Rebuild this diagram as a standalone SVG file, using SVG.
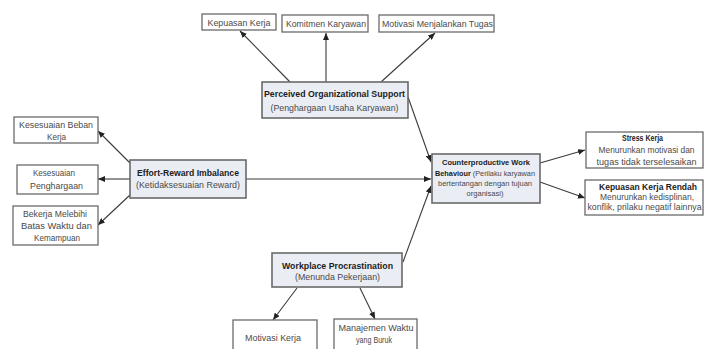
<svg xmlns="http://www.w3.org/2000/svg" width="705" height="349" viewBox="0 0 705 349">
<defs>
<marker id="ah" markerWidth="7" markerHeight="6" refX="7" refY="3" orient="auto" markerUnits="userSpaceOnUse">
<path d="M0,0 L7,3 L0,6 Z" fill="#222"/>
</marker>
<style>
.main{fill:#eaedf4;stroke:#6a6a6a;stroke-width:1.6}
.leaf{fill:#ffffff;stroke:#6a6a6a;stroke-width:1.3}
.c line{stroke:#3a3a3a;stroke-width:1.1;marker-end:url(#ah)}
text{font-family:"Liberation Sans",Arial,sans-serif;font-size:9.5px;text-anchor:middle;fill:#4a4a4a}
.s{font-size:8.6px}
.t{font-size:8px}
.b{font-weight:bold;fill:#1c1c1c}
</style>
</defs>
<rect width="705" height="349" fill="#ffffff"/>

<g id="connectors" class="c">
<line x1="290" y1="82" x2="240" y2="31"/>
<line x1="326" y1="82" x2="326" y2="33"/>
<line x1="381" y1="82" x2="435" y2="33"/>
<line x1="408" y1="97" x2="431" y2="162"/>
<line x1="130" y1="163" x2="98" y2="131"/>
<line x1="130" y1="179" x2="98" y2="179"/>
<line x1="130" y1="195" x2="98" y2="225"/>
<line x1="246" y1="179" x2="431" y2="179"/>
<line x1="403" y1="262" x2="431" y2="186"/>
<line x1="540" y1="163" x2="585" y2="150"/>
<line x1="540" y1="182" x2="585" y2="198"/>
<line x1="297" y1="288" x2="273" y2="320"/>
<line x1="360" y1="288" x2="375" y2="319"/>
</g>

<g id="pos">
<rect class="main" x="262" y="82" width="146" height="36"/>
<text class="b" x="334.5" y="97" textLength="141" lengthAdjust="spacingAndGlyphs">Perceived Organizational Support</text>
<text x="334.5" y="111" textLength="128" lengthAdjust="spacingAndGlyphs">(Penghargaan Usaha Karyawan)</text>
</g>

<g id="kepuasan-kerja">
<rect class="leaf" x="202" y="14" width="74" height="16"/>
<text x="239" y="25.5" textLength="63" lengthAdjust="spacingAndGlyphs">Kepuasan Kerja</text>
</g>
<g id="komitmen">
<rect class="leaf" x="282" y="15" width="86" height="17"/>
<text x="326" y="27" textLength="80" lengthAdjust="spacingAndGlyphs">Komitmen Karyawan</text>
</g>
<g id="motivasi-tugas">
<rect class="leaf" x="379" y="15" width="115" height="17"/>
<text x="437.5" y="27" textLength="111" lengthAdjust="spacingAndGlyphs">Motivasi Menjalankan Tugas</text>
</g>

<g id="eri">
<rect class="main" x="130" y="160" width="116" height="38"/>
<text class="b" x="188" y="175.5" textLength="102" lengthAdjust="spacingAndGlyphs">Effort-Reward Imbalance</text>
<text x="188" y="188" textLength="104" lengthAdjust="spacingAndGlyphs">(Ketidaksesuaian Reward)</text>
</g>

<g id="beban-kerja">
<rect class="leaf" x="14" y="117" width="84" height="26"/>
<text x="56" y="127.5" textLength="74" lengthAdjust="spacingAndGlyphs">Kesesuaian Beban</text>
<text x="56.5" y="139.5" textLength="19" lengthAdjust="spacingAndGlyphs">Kerja</text>
</g>
<g id="penghargaan">
<rect class="leaf" x="17" y="165" width="81" height="29"/>
<text x="54" y="176" textLength="42" lengthAdjust="spacingAndGlyphs">Kesesuaian</text>
<text x="56.5" y="188.5" textLength="53" lengthAdjust="spacingAndGlyphs">Penghargaan</text>
</g>
<g id="bekerja-melebihi">
<rect class="leaf" x="13" y="206" width="85" height="39"/>
<text x="55" y="216.5" textLength="64" lengthAdjust="spacingAndGlyphs">Bekerja Melebihi</text>
<text x="56.5" y="228.5" textLength="71" lengthAdjust="spacingAndGlyphs">Batas Waktu dan</text>
<text x="57" y="240.5" textLength="46" lengthAdjust="spacingAndGlyphs">Kemampuan</text>
</g>

<g id="cwb">
<rect class="main" x="432" y="154" width="108" height="49"/>
<text class="b t" x="486" y="165" textLength="88" lengthAdjust="spacingAndGlyphs">Counterproductive Work</text>
<text class="t" x="485" y="176.3" textLength="100" lengthAdjust="spacingAndGlyphs"><tspan class="b">Behaviour</tspan> (Perilaku karyawan</text>
<text class="t" x="485" y="186" textLength="94" lengthAdjust="spacingAndGlyphs">bertentangan dengan tujuan</text>
<text class="t" x="485" y="195.5" textLength="37" lengthAdjust="spacingAndGlyphs">organisasi)</text>
</g>

<g id="stress-kerja">
<rect class="leaf" x="586" y="132" width="117" height="36"/>
<text class="b s" x="642.5" y="141" textLength="41" lengthAdjust="spacingAndGlyphs">Stress Kerja</text>
<text class="s" x="646.5" y="153" textLength="96" lengthAdjust="spacingAndGlyphs">Menurunkan motivasi dan</text>
<text class="s" x="646.5" y="164.5" textLength="100" lengthAdjust="spacingAndGlyphs">tugas tidak terselesaikan</text>
</g>

<g id="kepuasan-rendah">
<rect class="leaf" x="585" y="180" width="118" height="35"/>
<text class="b s" x="648" y="189.5" textLength="98" lengthAdjust="spacingAndGlyphs">Kepuasan Kerja Rendah</text>
<text class="s" x="647" y="200" textLength="94" lengthAdjust="spacingAndGlyphs">Menurunkan kedisplinan,</text>
<text class="s" x="644.5" y="210" textLength="114" lengthAdjust="spacingAndGlyphs">konflik, prilaku negatif lainnya</text>
</g>

<g id="wp">
<rect class="main" x="272" y="253" width="130" height="34"/>
<text class="b" x="337.5" y="268.5" textLength="111" lengthAdjust="spacingAndGlyphs">Workplace Procrastination</text>
<text x="337.5" y="280" textLength="85" lengthAdjust="spacingAndGlyphs">(Menunda Pekerjaan)</text>
</g>

<g id="motivasi-kerja">
<rect class="leaf" x="233" y="320" width="84" height="34"/>
<text x="273" y="340.5" textLength="56" lengthAdjust="spacingAndGlyphs">Motivasi Kerja</text>
</g>
<g id="manajemen-waktu">
<rect class="leaf" x="334" y="319" width="83" height="35"/>
<text x="376" y="330.5" textLength="75" lengthAdjust="spacingAndGlyphs">Manajemen Waktu</text>
<text x="374" y="342.5" textLength="36" lengthAdjust="spacingAndGlyphs">yang Buruk</text>
</g>
</svg>
